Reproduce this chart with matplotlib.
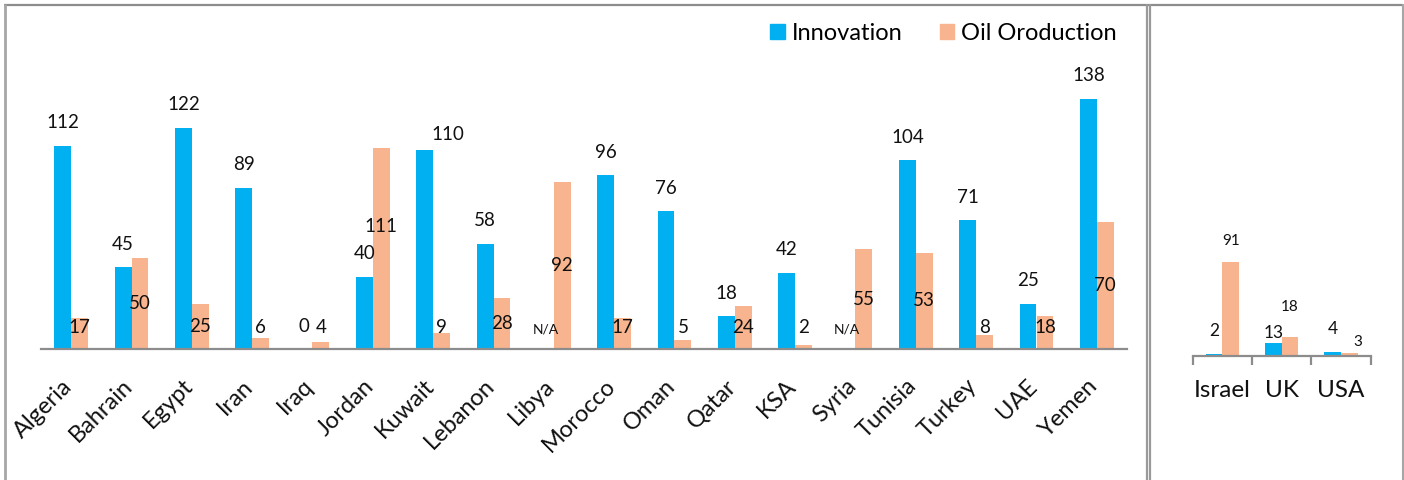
import numpy as np
import matplotlib
matplotlib.use("Agg")
import matplotlib.pyplot as plt
from matplotlib.lines import Line2D
from matplotlib.patches import Patch
from matplotlib.transforms import ScaledTranslation

plt.rcParams["font.family"] = ["Lato", "DejaVu Sans"]

# ---- data -------------------------------------------------------------
countries = ["Algeria", "Bahrain", "Egypt", "Iran", "Iraq", "Jordan", "Kuwait",
             "Lebanon", "Libya", "Morocco", "Oman", "Qatar", "KSA", "Syria",
             "Tunisia", "Turkey", "UAE", "Yemen"]
innovation = [112, 45, 122, 89, 0, 40, 110, 58, np.nan, 96, 76, 18, 42, np.nan,
              104, 71, 25, 138]
oil_production = [17, 50, 25, 6, 4, 111, 9, 28, 92, 17, 5, 24, 2, 55, 53, 8, 18, 70]

benchmarks = ["Israel", "UK", "USA"]
bench_innovation = [2, 13, 4]
bench_oil = [91, 18, 3]

# ---- style --------------------------------------------------------------
BLUE = "#00B0F0"
ORANGE = "#F7B48E"
GREY = "#8C8C8C"
TXT = "#111111"
W, H, DPI = 1404, 480, 100

fig = plt.figure(figsize=(W / DPI, H / DPI), dpi=DPI)


def fx(px):
    return px / W


def fy(px):
    return 1 - px / H


# label nudges in pixels (dx, dy up)
inn_nudge = {"Kuwait": (23, -8)}
oil_nudge = {"Jordan": (0, 22)}
bench_inn_nudge = {"UK": (0, -13)}
bench_oil_nudge = {"UK": (0, 9), "USA": (8, -10)}

px_pt = 72 / DPI

# ---- main panel -------------------------------------------------------
ax = fig.add_axes([fx(41), fy(349), fx(1086), 150 * 1.8125 / H])
x = np.arange(len(countries))
bw = 0.28
inn_vals = np.nan_to_num(np.array(innovation, dtype=float))
ax.bar(x - bw / 2, inn_vals, bw, color=BLUE, label="Innovation")
ax.bar(x + bw / 2, oil_production, bw, color=ORANGE, label="Oil Oroduction")
ax.set_xlim(-0.5, len(countries) - 0.5)
ax.set_ylim(0, 150)
for s in ("top", "left", "right"):
    ax.spines[s].set_visible(False)
ax.spines["bottom"].set_color(GREY)
ax.spines["bottom"].set_linewidth(1.6)
ax.set_yticks([])
ax.set_xticks(x)
ax.set_xticklabels(countries, rotation=45, ha="right", va="top",
                   fontsize=17, color=TXT)
ax.tick_params(axis="x", length=0, pad=19)
for lab in ax.get_xticklabels():
    lab.set_transform(lab.get_transform() + ScaledTranslation(5 / DPI, 0, fig.dpi_scale_trans))
ax.patch.set_alpha(0)

for i, c in enumerate(countries):
    v = innovation[i]
    if np.isnan(v):
        ax.annotate("N/A", (x[i] - bw / 2, 0), xytext=(0, 19 * px_pt),
                    textcoords="offset points", ha="center", va="center",
                    fontsize=10, color=TXT)
    else:
        dx, dy = inn_nudge.get(c, (0, 0))
        ax.annotate(f"{v:g}", (x[i] - bw / 2, v),
                    xytext=(dx * px_pt, (23 + dy) * px_pt),
                    textcoords="offset points", ha="center", va="center",
                    fontsize=13.5, color=TXT)
    o = oil_production[i]
    dx, dy = oil_nudge.get(c, (0, 0))
    ax.annotate(f"{o:g}", (x[i] + bw / 2, max(o / 2, 12)),
                xytext=(dx * px_pt, dy * px_pt), textcoords="offset points",
                ha="center", va="center", fontsize=13.5, color=TXT)

# ---- benchmark panel --------------------------------------------------
bx = fig.add_axes([fx(1192.7), fy(356), fx(178), 100 * 1.036 / H])
xb = np.arange(len(benchmarks))
bx.bar(xb - bw / 2, bench_innovation, bw, color=BLUE)
bx.bar(xb + bw / 2, bench_oil, bw, color=ORANGE)
bx.set_xlim(-0.5, len(benchmarks) - 0.5)
bx.set_ylim(0, 100)
for s in ("top", "left", "right"):
    bx.spines[s].set_visible(False)
bx.spines["bottom"].set_color(GREY)
bx.spines["bottom"].set_linewidth(1.6)
bx.set_yticks([])
bx.set_xticks(xb)
bx.set_xticklabels(benchmarks, fontsize=17.5, color=TXT)
bx.set_xticks(np.arange(-0.5, len(benchmarks)), minor=True)
bx.tick_params(axis="x", which="major", length=0, pad=17)
bx.tick_params(axis="x", which="minor", length=6.5, width=1.6, color=GREY, direction="out")
bx.patch.set_alpha(0)

for i, c in enumerate(benchmarks):
    dx, dy = bench_inn_nudge.get(c, (0, 0))
    bx.annotate(f"{bench_innovation[i]:g}", (xb[i] - bw / 2, bench_innovation[i]),
                xytext=(dx * px_pt, (23 + dy) * px_pt), textcoords="offset points",
                ha="center", va="center", fontsize=12.5, color=TXT)
    dx, dy = bench_oil_nudge.get(c, (0, 0))
    bx.annotate(f"{bench_oil[i]:g}", (xb[i] + bw / 2, bench_oil[i]),
                xytext=(dx * px_pt, (21 + dy) * px_pt), textcoords="offset points",
                ha="center", va="center", fontsize=11, color=TXT)

# ---- legend -------------------------------------------------------------
handles = [Patch(color=BLUE, label="Innovation"),
           Patch(color=ORANGE, label="Oil Oroduction")]
fig.legend(handles=handles, loc="center right", bbox_to_anchor=(fx(1117), fy(33)),
           ncol=2, frameon=False, fontsize=17, handlelength=0.6, handleheight=0.6,
           handletextpad=0.3, columnspacing=1.6, borderpad=0, borderaxespad=0)

# ---- panel frames -------------------------------------------------------
def frame_line(x0, y0, x1, y1, color=GREY, lw=1.6):
    fig.add_artist(Line2D([fx(x0), fx(x1)], [fy(y0), fy(y1)], color=color,
                          lw=lw, solid_capstyle="butt"))

frame_line(4, 4.5, 1403, 4.5)
frame_line(4.5, 4, 4.5, 480, color="#A6A6A6", lw=2)
frame_line(1147, 4, 1147, 480, color="#9A9A9A", lw=1.6)
frame_line(1150, 4, 1150, 480, color="#9A9A9A", lw=1.6)
frame_line(1403, 4, 1403, 480, color="#A6A6A6", lw=1.5)

fig.savefig("out.png", dpi=DPI)
